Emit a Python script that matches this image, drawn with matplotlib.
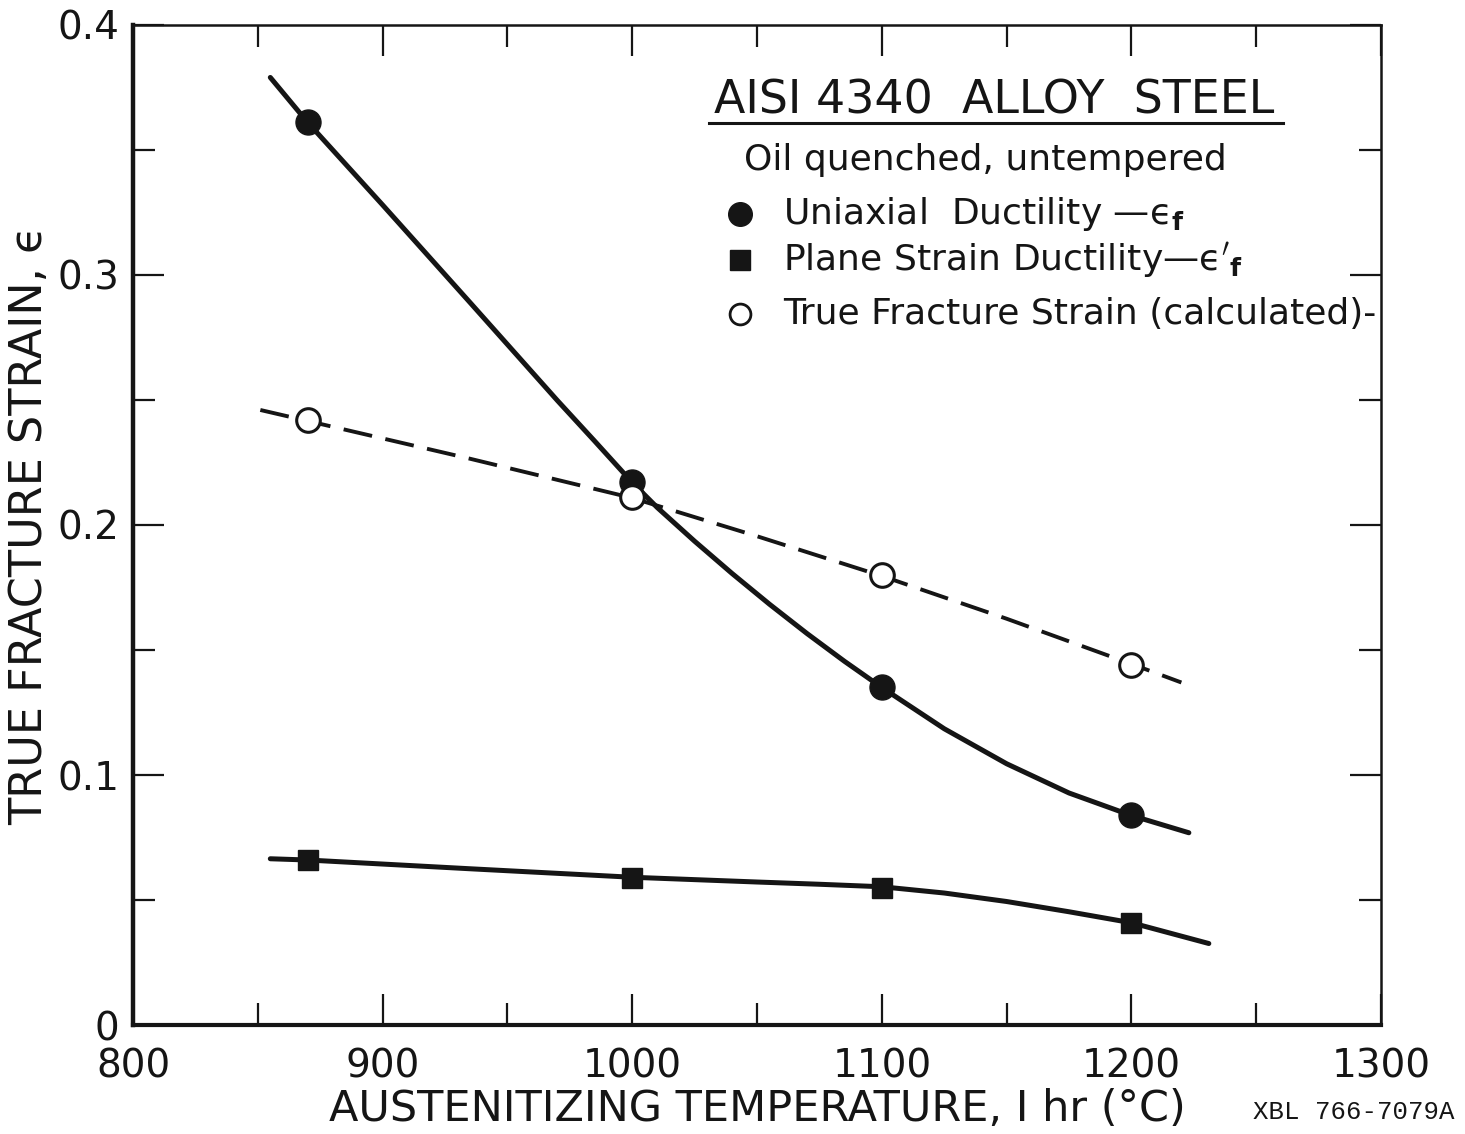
import numpy as np
import matplotlib
matplotlib.use("Agg")
import matplotlib.pyplot as plt
from matplotlib.ticker import MultipleLocator, FuncFormatter

# measured points (austenitizing temperature, deg C)
temps = [870, 1000, 1100, 1200]
uniaxial = [0.361, 0.217, 0.135, 0.084]          # filled circles
plane_strain = [0.066, 0.059, 0.055, 0.041]      # filled squares
true_fracture = [0.242, 0.211, 0.180, 0.144]     # open circles

# hand drawn curves
uni_curve_t = [855, 870, 900, 935, 955, 970, 985, 1000, 1010, 1025, 1040, 1055, 1070, 1085,
               1100, 1125, 1150, 1175, 1200, 1223]
uni_curve_e = [0.379, 0.361, 0.328, 0.289, 0.2666, 0.2498, 0.2335, 0.217, 0.207, 0.1935,
               0.1806, 0.1683, 0.1566, 0.1455, 0.135, 0.1185, 0.1045, 0.0928, 0.0838, 0.0769]

plane_curve_t = [855, 870, 935, 1000, 1050, 1075, 1100, 1125, 1150, 1175, 1200, 1231]
plane_curve_e = [0.0665, 0.0660, 0.0625, 0.0591, 0.0572, 0.0563, 0.0553, 0.0528, 0.0494,
                 0.0453, 0.0409, 0.0326]

tf_curve_t = [851, 870, 935, 1000, 1050, 1100, 1150, 1200, 1220]
tf_curve_e = [0.246, 0.2416, 0.2265, 0.2108, 0.1955, 0.1796, 0.1625, 0.1444, 0.137]

ink = "#151515"
plt.rcParams['font.family'] = ['DejaVu Sans']
plt.rcParams['mathtext.fontset'] = 'dejavusans'

fig = plt.figure(figsize=(14.65, 11.34), dpi=100)
ax = fig.add_axes([0.0908, 0.0961, 0.8519, 0.8819])

# curves
ax.plot(uni_curve_t, uni_curve_e, color=ink, lw=3.6, solid_capstyle='round', zorder=2)
ax.plot(plane_curve_t, plane_curve_e, color=ink, lw=3.6, solid_capstyle='round', zorder=2)
ax.plot(tf_curve_t, tf_curve_e, color=ink, lw=2.8, dashes=(7.5, 3.5), zorder=2)

# data points
ax.plot(temps, uniaxial, 'o', color=ink, ms=18, zorder=3)
ax.plot(temps, plane_strain, 's', color=ink, ms=15, zorder=3)
ax.plot(temps, true_fracture, 'o', mfc='white', mec=ink, mew=2.2, ms=17, zorder=4)

ax.set_xlim(800, 1300)
ax.set_ylim(0, 0.4)
ax.xaxis.set_major_locator(MultipleLocator(100))
ax.xaxis.set_minor_locator(MultipleLocator(50))
ax.yaxis.set_major_locator(MultipleLocator(0.1))
ax.yaxis.set_minor_locator(MultipleLocator(0.05))
ax.yaxis.set_major_formatter(FuncFormatter(lambda v, p: "0" if abs(v) < 1e-9 else "%.1f" % v))

ax.tick_params(which='both', direction='in', top=True, right=True, color=ink, width=1.6)
ax.tick_params(which='major', length=22, labelsize=28, labelcolor=ink)
ax.tick_params(axis='x', which='major', pad=16)
ax.tick_params(axis='y', which='major', pad=10)
ax.tick_params(which='minor', length=16)

ax.spines['left'].set_linewidth(3.2)
ax.spines['bottom'].set_linewidth(3.0)
ax.spines['top'].set_linewidth(1.8)
ax.spines['right'].set_linewidth(1.8)
for s in ax.spines.values():
    s.set_color(ink)

ax.set_xlabel("AUSTENITIZING TEMPERATURE, I hr (°C)", fontsize=31, color=ink, labelpad=2)
ax.set_ylabel("TRUE FRACTURE STRAIN, ϵ", fontsize=32, color=ink, labelpad=4)

# legend block, hand lettered in the original
tr = ax.transAxes
ax.text(0.4655, 0.924, "AISI 4340  ALLOY  STEEL", transform=tr, fontsize=33,
        color=ink, va='center', ha='left')
ax.plot([0.4615, 0.9215], [0.902, 0.902], transform=tr, color=ink, lw=2.2, clip_on=False)
ax.text(0.4896, 0.865, "Oil quenched, untempered", transform=tr, fontsize=26,
        color=ink, va='center', ha='left')

rows_y = [0.811, 0.765, 0.711]
ax.plot([0.4864], [rows_y[0]], 'o', color=ink, ms=17, transform=tr, clip_on=False)
ax.plot([0.4864], [rows_y[1]], 's', color=ink, ms=15, transform=tr, clip_on=False)
ax.plot([0.4864], [rows_y[2]], 'o', mfc='white', mec=ink, mew=2.0, ms=15, transform=tr, clip_on=False)
ax.text(0.5208, rows_y[0], r"Uniaxial  Ductility —$\mathrm{ϵ}_{\mathbf{f}}$", transform=tr,
        fontsize=26, color=ink, va='center', ha='left')
ax.text(0.5208, rows_y[1], r"Plane Strain Ductility—$\mathrm{ϵ}'_{\mathbf{f}}$", transform=tr,
        fontsize=26, color=ink, va='center', ha='left')
ax.text(0.5208, rows_y[2], "True Fracture Strain (calculated)-", transform=tr,
        fontsize=26, color=ink, va='center', ha='left')

fig.text(0.855, 0.019, "XBL 766-7079A", fontsize=18.5, family='Liberation Mono',
         color=ink, ha='left', va='center')

fig.savefig("out.png", dpi=100, facecolor='white')
